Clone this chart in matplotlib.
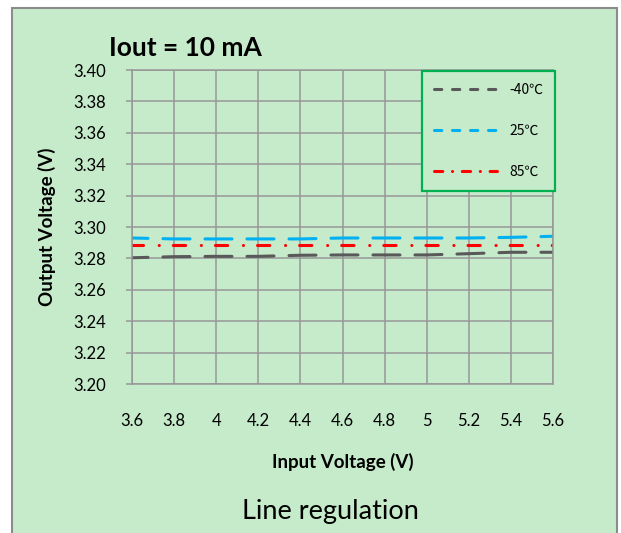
import matplotlib
matplotlib.use("Agg")
import matplotlib.pyplot as plt
from matplotlib.lines import Line2D
from matplotlib.patches import Rectangle

plt.rcParams['font.family'] = ['Lato', 'Noto Sans CJK SC', 'DejaVu Sans']
plt.rcParams['lines.scale_dashes'] = False

# data
vin = [3.6, 3.8, 4.0, 4.2, 4.4, 4.6, 4.8, 5.0, 5.2, 5.4, 5.6]
vin_labels = ["3.6", "3.8", "4", "4.2", "4.4", "4.6", "4.8", "5", "5.2", "5.4", "5.6"]
v_m40 = [3.2804, 3.2811, 3.2813, 3.2813, 3.2820, 3.2822, 3.2822, 3.2822, 3.2830, 3.2839, 3.2839]
v_25 = [3.2930, 3.2924, 3.2924, 3.2924, 3.2924, 3.2930, 3.2930, 3.2930, 3.2930, 3.2934, 3.2941]
v_85 = [3.2883, 3.2883, 3.2883, 3.2883, 3.2883, 3.2883, 3.2883, 3.2883, 3.2883, 3.2883, 3.2883]
series_names = ["-40\u2103", "25\u2103", "85\u2103"]
yticks = [3.20, 3.22, 3.24, 3.26, 3.28, 3.30, 3.32, 3.34, 3.36, 3.38, 3.40]

bg = '#C6EBCB'
grid_col = '#979797'
c_gray = '#595959'
c_blue = '#00B0F0'
c_red = '#FF0000'

W, H = 621, 533
fig = plt.figure(figsize=(W / 100, H / 100), dpi=100)
fig.patch.set_facecolor('white')

# chart area frame
frame = Rectangle((12 / W, -0.05), (617 - 12) / W, (H - 8) / H + 0.05,
                  transform=fig.transFigure, facecolor=bg,
                  edgecolor='#8C8C8C', linewidth=1.5, zorder=-5)
fig.add_artist(frame)

ax = fig.add_axes([132 / W, (H - 384) / H, (553 - 132) / W, (384 - 70) / H])
ax.set_facecolor(bg)
ax.set_zorder(2)

lw = 2.2
p = 0.72  # px -> pt
dash_main = (11.0 * p, (27 * p, 15 * p))
dash_dot = (1.3 * p, (12.3 * p, 15.7 * p, 0.1 * p, 14 * p))
ax.plot(vin, v_m40, color=c_gray, lw=lw, dash_capstyle='round', linestyle=dash_main)
ax.plot(vin, v_25, color=c_blue, lw=lw, dash_capstyle='round', linestyle=dash_main)
ax.plot(vin, v_85, color=c_red, lw=lw, dash_capstyle='round', linestyle=dash_dot)

ax.set_xlim(3.6, 5.6)
ax.set_ylim(3.20, 3.40)
ax.set_xticks(vin)
ax.set_xticklabels(vin_labels)
ax.set_yticks(yticks)
ax.set_yticklabels(["%.2f" % t for t in yticks])
ax.grid(True, color=grid_col, linewidth=1.1)
ax.set_axisbelow(True)
for s in ax.spines.values():
    s.set_color(grid_col)
    s.set_linewidth(1.1)
ax.tick_params(axis='y', length=4.5, width=1.1, color=grid_col, pad=14, labelsize=12)
ax.tick_params(axis='x', length=0, pad=21, labelsize=12)

ax.set_xlabel("Input Voltage (V)", fontsize=13.5, fontweight='bold', labelpad=17)
ax.set_ylabel("Output Voltage (V)", fontsize=13.5, fontweight='bold', labelpad=13)

fig.text(185 / W, 1 - 48 / H, "Iout = 10 mA", fontsize=19, fontweight='bold',
         ha='center', va='center')
fig.text(330 / W, 1 - 512 / H, "Line regulation", fontsize=19.5,
         ha='center', va='center')

leg_main = (0, (7.3 * p, 10.7 * p))
leg_dot = (0, (8.3 * p, 9.7 * p, 0.1 * p, 9.7 * p))
handles = [
    Line2D([], [], color=c_gray, lw=lw, dash_capstyle='round', linestyle=leg_main),
    Line2D([], [], color=c_blue, lw=lw, dash_capstyle='round', linestyle=leg_main),
    Line2D([], [], color=c_red, lw=lw, dash_capstyle='round', linestyle=leg_dot),
]
leg = ax.legend(handles, series_names, loc='upper right',
                bbox_to_anchor=((555 - 132) / 421, (384 - 71) / 314),
                borderaxespad=0, prop={'family': ['Noto Sans CJK SC'], 'size': 10},
                handlelength=4.6, handletextpad=0.85,
                labelspacing=1.95, borderpad=0.85, fancybox=False, framealpha=1,
                facecolor=bg, edgecolor='#00B050')
leg.get_frame().set_linewidth(1.6)

fig.savefig("out.png", dpi=100)
